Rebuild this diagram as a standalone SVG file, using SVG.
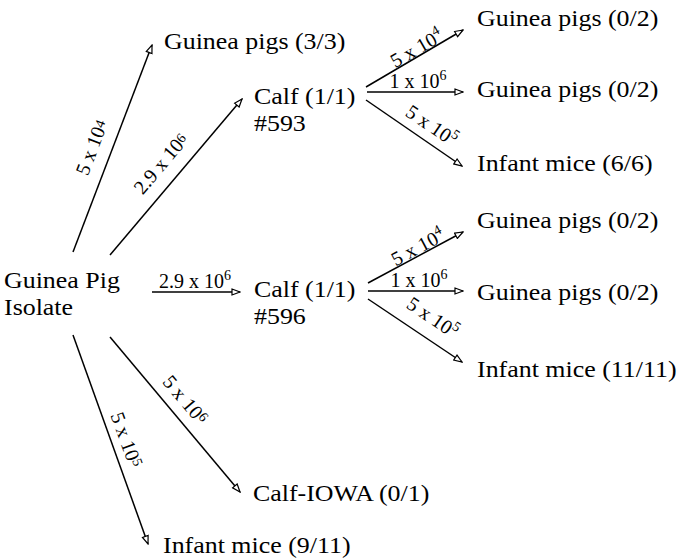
<svg xmlns="http://www.w3.org/2000/svg" width="688" height="560" viewBox="0 0 688 560">
<defs>
<marker id="ah" viewBox="0 0 10 8" refX="9" refY="4" markerWidth="10" markerHeight="8" markerUnits="userSpaceOnUse" orient="auto">
<path d="M1,1 L9,4 L1,7 Z" fill="#fff" stroke="#000" stroke-width="1.2"/>
</marker>
<style>
.n{font-family:"Liberation Serif","Times New Roman",serif;font-size:24px;fill:#000}
.l{font-family:"Liberation Serif","Times New Roman",serif;font-size:20px;fill:#000}
.s{font-size:14px}
.e{stroke:#000;stroke-width:1.5;fill:none;marker-end:url(#ah)}
</style>
</defs>
<rect width="688" height="560" fill="#fff"/>
<g id="connectors">
<line class="e" x1="73" y1="252" x2="152" y2="45"/>
<line class="e" x1="110" y1="255" x2="242" y2="99"/>
<line class="e" x1="152" y1="292" x2="240" y2="292"/>
<line class="e" x1="110" y1="337" x2="240" y2="492"/>
<line class="e" x1="73" y1="335" x2="148" y2="544"/>
<line class="e" x1="366" y1="87" x2="463" y2="30"/>
<line class="e" x1="367" y1="92" x2="463" y2="92"/>
<line class="e" x1="366" y1="100" x2="462" y2="166"/>
<line class="e" x1="368" y1="283" x2="463" y2="232"/>
<line class="e" x1="368" y1="291" x2="463" y2="291"/>
<line class="e" x1="368" y1="299" x2="462" y2="362"/>
</g>
<g id="edge-labels">
<text class="l" transform="translate(98,150) rotate(-69)" text-anchor="middle">5 x 10<tspan class="s" dy="-3">4</tspan></text>
<text class="l" transform="translate(166,168) rotate(-50)" text-anchor="middle">2.9 x 10<tspan class="s" dy="-3">6</tspan></text>
<text class="l" x="195" y="288" text-anchor="middle">2.9 x 10<tspan class="s" dy="-8">6</tspan></text>
<text class="l" transform="translate(120,442) rotate(70)" text-anchor="middle">5 x 10<tspan class="s" dy="-5">5</tspan></text>
<text class="l" transform="translate(180,404) rotate(50)" text-anchor="middle">5 x 10<tspan class="s" dy="-5">6</tspan></text>
<text class="l" transform="translate(420,54) rotate(-30)" text-anchor="middle">5 x 10<tspan class="s" dy="-8">4</tspan></text>
<text class="l" x="418" y="88" text-anchor="middle">1 x 10<tspan class="s" dy="-8">6</tspan></text>
<text class="l" transform="translate(428,131) rotate(34)" text-anchor="middle">5 x 10<tspan class="s" dy="-8">5</tspan></text>
<text class="l" transform="translate(421,253) rotate(-28)" text-anchor="middle">5 x 10<tspan class="s" dy="-8">4</tspan></text>
<text class="l" x="419" y="287" text-anchor="middle">1 x 10<tspan class="s" dy="-8">6</tspan></text>
<text class="l" transform="translate(429,323) rotate(34)" text-anchor="middle">5 x 10<tspan class="s" dy="-8">5</tspan></text>
</g>
<g id="guinea-pig-isolate"><text class="n" transform="translate(4,288) scale(1.08,1)">Guinea Pig<tspan x="0" dy="27">Isolate</tspan></text></g>
<g id="guinea-pigs-3-3"><text class="n" transform="translate(164,49) scale(1.08,1)">Guinea pigs (3/3)</text></g>
<g id="calf-593"><text class="n" transform="translate(254,104) scale(1.08,1)">Calf (1/1)<tspan x="0" dy="27">#593</tspan></text></g>
<g id="gp-593-a"><text class="n" transform="translate(477,26) scale(1.08,1)">Guinea pigs (0/2)</text></g>
<g id="gp-593-b"><text class="n" transform="translate(477,97) scale(1.08,1)">Guinea pigs (0/2)</text></g>
<g id="mice-593"><text class="n" transform="translate(477,171) scale(1.08,1)">Infant mice (6/6)</text></g>
<g id="calf-596"><text class="n" transform="translate(254,297) scale(1.08,1)">Calf (1/1)<tspan x="0" dy="27">#596</tspan></text></g>
<g id="gp-596-a"><text class="n" transform="translate(477,228) scale(1.08,1)">Guinea pigs (0/2)</text></g>
<g id="gp-596-b"><text class="n" transform="translate(477,300) scale(1.08,1)">Guinea pigs (0/2)</text></g>
<g id="mice-596"><text class="n" transform="translate(477,377) scale(1.08,1)">Infant mice (11/11)</text></g>
<g id="calf-iowa"><text class="n" transform="translate(253,501) scale(1.08,1)">Calf-IOWA (0/1)</text></g>
<g id="mice-isolate"><text class="n" transform="translate(163,553) scale(1.08,1)">Infant mice (9/11)</text></g>
</svg>
